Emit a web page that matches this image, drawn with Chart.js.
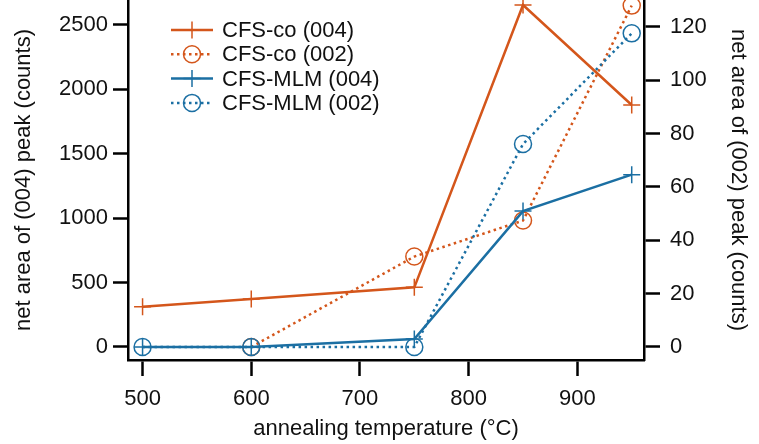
<!DOCTYPE html>
<html lang="en">
<head>
  <meta charset="UTF-8" />
  <title>Net peak area vs annealing temperature</title>
  <script src="https://cdn.jsdelivr.net/npm/chart.js"></script>
  <style>
    html, body {
      margin: 0;
      padding: 0;
      background: #ffffff;
    }
    #wrap {
      width: 759px;
      height: 444px;
    }
  </style>
</head>
<body>
  <div id="wrap"><canvas id="peakChart" width="759" height="444"></canvas></div>

  <script>
    // annealing temperatures (°C)
    const temps = [500, 600, 750, 850, 950];

    // left axis: net area of (004) peak
    const coPeak004 = [313, 373, 463, 2655, 1879];
    const mlmPeak004 = [0, 0, 62, 1055, 1338];

    // right axis: net area of (002) peak
    const coPeak002 = [null, 0, 33.9, 47.4, 128];
    const mlmPeak002 = [0, 0, 0, 76.1, 117.6];

    const seriesNames = ['CFS-co (004)', 'CFS-co (002)', 'CFS-MLM (004)', 'CFS-MLM (002)'];

    const xTicks = [500, 600, 700, 800, 900];
    const leftTicks = [0, 500, 1000, 1500, 2000, 2500];
    const rightTicks = [0, 20, 40, 60, 80, 100, 120];

    const ORANGE = '#d4561b';
    const BLUE = '#1b6fa3';
    const FONT = 'Liberation Sans, Arial, sans-serif';

    function pts(vals) {
      return temps.map((t, i) => ({ x: t, y: vals[i] }));
    }

    function fixedTicks(list) {
      return function (scale) {
        scale.ticks = list.map(v => ({ value: v }));
      };
    }

    // fixed box size, and no extra room kept for the end labels
    function boxSize(w, h) {
      return function (scale) {
        if (w) scale.width = w;
        if (h) scale.height = h;
        scale.paddingTop = 0;
        scale.paddingBottom = 0;
        scale.paddingLeft = 0;
        scale.paddingRight = 0;
      };
    }

    // legend drawn inside the plot, top left
    const insideLegend = {
      id: 'insideLegend',
      afterDraw(chart) {
        const ctx = chart.ctx;
        chart.data.datasets.forEach((ds, i) => {
          const y = 30 + i * 24.3;
          ctx.save();
          ctx.strokeStyle = ds.borderColor;
          ctx.lineWidth = ds.borderWidth;
          ctx.lineCap = 'butt';
          ctx.setLineDash(ds.borderDash || []);
          ctx.beginPath();
          ctx.moveTo(171, y);
          ctx.lineTo(213, y);
          ctx.stroke();
          ctx.setLineDash([]);
          ctx.fillStyle = 'rgba(0,0,0,0)';
          ctx.lineWidth = ds.pointBorderWidth;
          Chart.helpers.drawPoint(ctx, {
            pointStyle: ds.pointStyle,
            radius: ds.pointRadius,
            borderWidth: ds.pointBorderWidth,
            rotation: 0
          }, 192, y);
          ctx.fillStyle = '#111';
          ctx.font = '22px ' + FONT;
          ctx.textAlign = 'left';
          ctx.textBaseline = 'middle';
          ctx.fillText(ds.label, 222, y + 1);
          ctx.restore();
        });
      }
    };

    function makeSet(i, vals, color, dotted, style, axis, order) {
      return {
        label: seriesNames[i],
        data: pts(vals),
        yAxisID: axis,
        borderColor: color,
        backgroundColor: 'rgba(0,0,0,0)',
        borderWidth: 2.5,
        borderDash: dotted ? [2.5, 3.5] : [],
        pointStyle: style,
        pointRadius: 8.5,
        pointHoverRadius: 8.5,
        pointBorderWidth: 1.5,
        pointBorderColor: color,
        pointBackgroundColor: 'rgba(0,0,0,0)',
        spanGaps: false,
        tension: 0,
        clip: false,
        order: order
      };
    }

    const axisColor = '#000';
    const tickFont = { family: FONT, size: 22 };
    const titleFont = { family: FONT, size: 22 };
    const plain = v => String(v);

    new Chart(document.getElementById('peakChart').getContext('2d'), {
      type: 'line',
      data: {
        datasets: [
          makeSet(0, coPeak004, ORANGE, false, 'cross', 'y', 4),
          makeSet(1, coPeak002, ORANGE, true, 'circle', 'y1', 3),
          makeSet(2, mlmPeak004, BLUE, false, 'cross', 'y', 2),
          makeSet(3, mlmPeak002, BLUE, true, 'circle', 'y1', 1)
        ]
      },
      options: {
        responsive: false,
        animation: false,
        devicePixelRatio: 1,
        layout: { padding: 0, autoPadding: false },
        plugins: {
          legend: { display: false },
          tooltip: { enabled: false }
        },
        scales: {
          x: {
            type: 'linear',
            position: 'bottom',
            min: 486.6,
            max: 961.3,
            afterBuildTicks: fixedTicks(xTicks),
            afterFit: boxSize(0, 84),
            border: { display: true, color: axisColor, width: 2.5 },
            grid: { drawOnChartArea: false, drawTicks: true, tickLength: 16, tickWidth: 2.5, tickColor: axisColor },
            ticks: { color: '#111', font: tickFont, padding: 10, maxRotation: 0, callback: plain },
            title: {
              display: true,
              text: 'annealing temperature (°C)',
              color: '#111',
              font: titleFont,
              padding: { top: 0, bottom: 2 }
            }
          },
          y: {
            type: 'linear',
            position: 'left',
            min: -101,
            max: 2694,
            afterBuildTicks: fixedTicks(leftTicks),
            afterFit: boxSize(128, 0),
            border: { display: true, color: axisColor, width: 2.5 },
            grid: { drawOnChartArea: false, drawTicks: true, tickLength: 15, tickWidth: 2.5, tickColor: axisColor },
            ticks: { color: '#111', font: tickFont, padding: 5, callback: plain },
            title: {
              display: true,
              text: 'net area of (004) peak (counts)',
              color: '#111',
              font: titleFont,
              padding: { top: 11, bottom: 0 }
            }
          },
          y1: {
            type: 'linear',
            position: 'right',
            min: -4.875,
            max: 130.1,
            afterBuildTicks: fixedTicks(rightTicks),
            afterFit: boxSize(115, 0),
            border: { display: true, color: axisColor, width: 2.5 },
            grid: { drawOnChartArea: false, drawTicks: true, tickLength: 16, tickWidth: 2.5, tickColor: axisColor },
            ticks: { color: '#111', font: tickFont, padding: 10, callback: plain },
            title: {
              display: true,
              text: 'net area of (002) peak (counts)',
              color: '#111',
              font: titleFont,
              padding: { top: 8, bottom: 0 }
            }
          }
        }
      },
      plugins: [insideLegend]
    });
  </script>
</body>
</html>
